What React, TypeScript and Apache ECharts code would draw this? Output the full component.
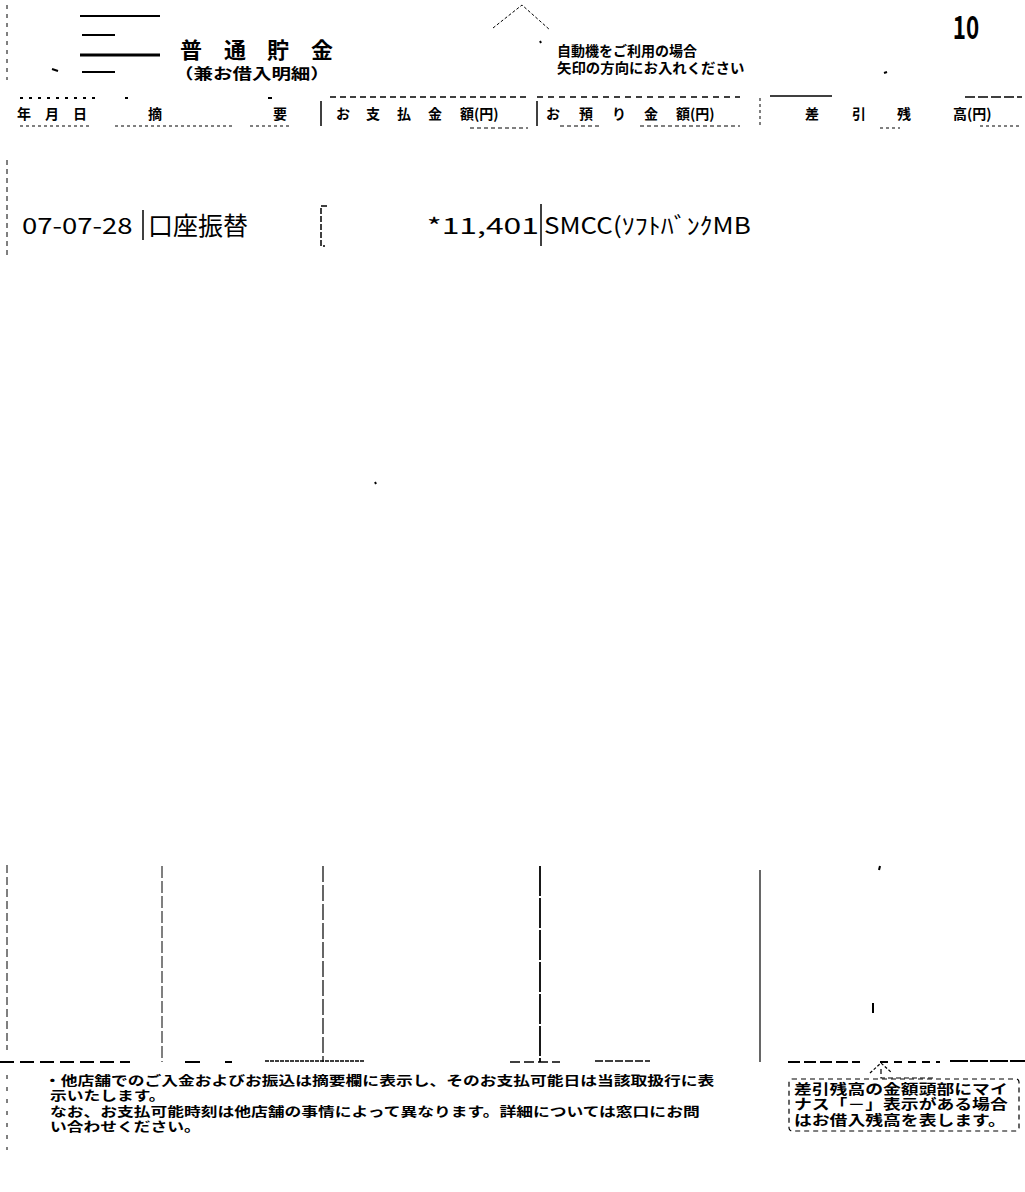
import React, { useEffect, useRef } from "react";
import * as echarts from "echarts";

// ---- content ----
const titleChars = ["普", "通", "貯", "金"];
const subtitle = "（兼お借入明細）";
const noticeLines = ["自動機をご利用の場合", "矢印の方向にお入れください"];
const pageNo = "10";
const headerDate = ["年", "月", "日"];
const headerDesc = ["摘", "要"];
const headerPay = ["お", "支", "払", "金", "額(円)"];
const headerDep = ["お", "預", "り", "金", "額(円)"];
const headerBal = ["差", "引", "残", "高(円)"];
const rowDate = "07-07-28";
const rowDesc = "口座振替";
const rowPay = "*11,401";
const rowMemo = "SMCC(ｿﾌﾄﾊﾞﾝｸMB";
const footerLines = [
  "・他店舗でのご入金およびお振込は摘要欄に表示し、そのお支払可能日は当該取扱行に表",
  "示いたします。",
  "なお、お支払可能時刻は他店舗の事情によって異なります。詳細については窓口にお問",
  "い合わせください。",
];
const boxLines = ["差引残高の金額頭部にマイ", "ナス「－」表示がある場合", "はお借入残高を表します。"];

const FONT = "'Noto Sans CJK JP', 'Noto Sans', sans-serif";

function T(x: number, y: number, text: string, size: number, extra: any = {}) {
  const { align, weight, family, scaleX } = extra;
  return {
    type: "text",
    x,
    y,
    scaleX: scaleX ?? 1,
    style: {
      text,
      fontSize: size,
      fontFamily: family ?? FONT,
      fontWeight: weight ?? "bold",
      fill: "#000",
      textAlign: align ?? "left",
      textVerticalAlign: "middle",
    },
  };
}

function L(x1: number, y1: number, x2: number, y2: number, lw = 1, dash: number[] | null = null) {
  return {
    type: "line",
    shape: { x1, y1, x2, y2 },
    style: { stroke: "#000", lineWidth: lw, lineDash: dash ?? undefined },
  };
}

export default function App() {
  const ref = useRef<HTMLDivElement>(null);
  useEffect(() => {
    if (!ref.current) return;
    const chart = echarts.init(ref.current, undefined, { renderer: "svg" });
    const els: any[] = [];

    // logo lines
    els.push(L(80, 16, 160, 16, 2));
    els.push(L(82, 35, 115, 35, 2));
    els.push(L(80, 55, 160, 55, 3));
    els.push(L(82, 72, 115, 72, 2));
    els.push(L(52, 69, 58, 71, 2));

    // title
    const titleX = [191, 235, 278, 322];
    titleChars.forEach((c, i) => els.push(T(titleX[i], 48, c, 22, { align: "center" })));
    els.push(T(174, 73, subtitle, 15, { scaleX: 1.3 }));

    // insertion arrow
    els.push({
      type: "polyline",
      shape: { points: [[493, 28], [522, 5], [550, 30]] },
      style: { stroke: "#000", lineWidth: 1, lineDash: [3, 2], fill: "none" },
    });
    els.push(L(540, 41, 541, 43, 2));
    els.push(T(557, 50, noticeLines[0], 14));
    els.push(T(557, 67, noticeLines[1], 14, { scaleX: 1.03 }));
    els.push(T(966, 25, pageNo, 32, { align: "center", weight: "bold", scaleX: 0.7 }));
    els.push(L(884, 73, 887, 72, 2));

    // left dashed border
    els.push(L(7, 5, 7, 80, 1, [4, 5]));
    els.push(L(7, 160, 7, 255, 1, [5, 4]));
    els.push(L(7, 865, 7, 1050, 1, [8, 4]));
    els.push(L(7, 1075, 7, 1150, 1, [4, 8]));

    // header
    const hy = 113;
    [24, 52, 80].forEach((x, i) => els.push(T(x, hy, headerDate[i], 14, { align: "center" })));
    [155, 280].forEach((x, i) => els.push(T(x, hy, headerDesc[i], 14, { align: "center" })));
    [336, 366, 397, 428, 460].forEach((x, i) => els.push(T(x, hy, headerPay[i], 14, { align: "left" })));
    [546, 579, 612, 644, 676].forEach((x, i) => els.push(T(x, hy, headerDep[i], 14, { align: "left" })));
    [805, 852, 897, 953].forEach((x, i) => els.push(T(x, hy, headerBal[i], 14, { align: "left" })));
    els.push(L(321, 101, 321, 126, 1.5));
    els.push(L(537, 101, 537, 126, 1.5));
    els.push(L(760, 98, 760, 125, 1, [3, 3]));
    // header top dotted line
    els.push(L(20, 98, 95, 98, 2, [3, 6]));
    els.push(L(125, 98, 128, 98, 2));
    els.push(L(268, 98, 272, 98, 2));
    els.push(L(330, 97, 530, 97, 1.5, [6, 4]));
    els.push(L(537, 97, 740, 97, 1.5, [6, 5]));
    els.push(L(770, 96, 832, 96, 1.5));
    els.push(L(965, 97, 1022, 97, 1.5, [10, 3]));
    // header bottom dotted line
    els.push(L(20, 126, 92, 126, 1, [3, 3]));
    els.push(L(115, 126, 235, 126, 1, [3, 3]));
    els.push(L(250, 126, 290, 126, 1, [3, 3]));
    els.push(L(470, 128, 528, 128, 1, [4, 3]));
    els.push(L(560, 126, 600, 126, 1, [4, 3]));
    els.push(L(640, 126, 740, 126, 1, [4, 3]));
    els.push(L(880, 128, 900, 128, 1, [3, 3]));
    els.push(L(980, 126, 1020, 126, 1, [3, 3]));

    // data row
    const ry = 224;
    els.push(T(22, ry, rowDate, 22, { weight: "normal", scaleX: 1.25 }));
    els.push(L(143, 210, 143, 240, 1.5));
    els.push(T(148, ry, rowDesc, 25, { weight: "normal" }));
    els.push({
      type: "polyline",
      shape: { points: [[327, 206], [321, 206], [321, 246], [325, 246]] },
      style: { stroke: "#000", lineWidth: 1.5, lineDash: [6, 2], fill: "none" },
    });
    els.push(T(539, ry, rowPay, 22, { align: "right", weight: "normal", scaleX: 1.45 }));
    els.push(L(541, 204, 541, 246, 1.5));
    els.push(T(544, ry, rowMemo, 23, { weight: "normal", scaleX: 1.13 }));

    // stray marks
    els.push(L(375, 482, 376, 484, 2));
    els.push(L(880, 866, 879, 870, 2));
    els.push(L(873, 1003, 873, 1013, 2));

    // bottom verticals
    els.push(L(162, 866, 162, 1062, 1, [12, 3]));
    els.push(L(323, 866, 323, 1062, 1.2, [16, 3]));
    els.push(L(540, 866, 540, 1062, 1.8, [30, 2]));
    els.push(L(760, 870, 760, 1062, 1.2));

    // bottom horizontal
    els.push(L(0, 1062, 130, 1062, 2, [14, 6]));
    els.push(L(185, 1062, 200, 1062, 2));
    els.push(L(225, 1062, 232, 1062, 2));
    els.push(L(265, 1061, 365, 1061, 1.5, [4, 1]));
    els.push(L(510, 1062, 560, 1062, 1.5, [10, 4]));
    els.push(L(595, 1061, 650, 1061, 1.5, [8, 2]));
    els.push(L(788, 1062, 860, 1062, 2, [12, 4]));
    els.push(L(880, 1062, 940, 1062, 2, [8, 6]));
    els.push(L(950, 1061, 1025, 1061, 2, [18, 2]));

    // footer text
    els.push(T(44, 1079, footerLines[0], 12.8, { scaleX: 1.31 }));
    els.push(T(50, 1094, footerLines[1], 12.8, { scaleX: 1.31 }));
    els.push(T(50, 1110, footerLines[2], 12.8, { scaleX: 1.31 }));
    els.push(T(50, 1125, footerLines[3], 12.8, { scaleX: 1.31 }));

    // right explanation box
    els.push({
      type: "polyline",
      shape: { points: [[870, 1073], [881, 1063], [892, 1073]] },
      style: { stroke: "#000", lineWidth: 1.2, lineDash: [3, 2], fill: "none" },
    });
    els.push({
      type: "polyline",
      shape: { points: [[881, 1069], [881, 1078], [935, 1078]] },
      style: { stroke: "#000", lineWidth: 1.2, lineDash: [5, 3], fill: "none" },
    });
    els.push({
      type: "rect",
      shape: { x: 789, y: 1079, width: 230, height: 52, r: 3 },
      style: { stroke: "#000", lineWidth: 1.2, lineDash: [5, 4], fill: "none" },
    });
    els.push(T(794, 1088, boxLines[0], 13.5, { scaleX: 1.32 }));
    els.push(T(794, 1103, boxLines[1], 13.5, { scaleX: 1.32 }));
    els.push(T(794, 1119, boxLines[2], 13.5, { scaleX: 1.32 }));

    chart.setOption({
      animation: false,
      backgroundColor: "#ffffff",
      graphic: { elements: els },
    });
    return () => chart.dispose();
  }, []);
  return (
    <div
      ref={ref}
      style={{ position: "absolute", left: 0, top: 0, width: 1025, height: 1192, background: "#fff" }}
    />
  );
}
